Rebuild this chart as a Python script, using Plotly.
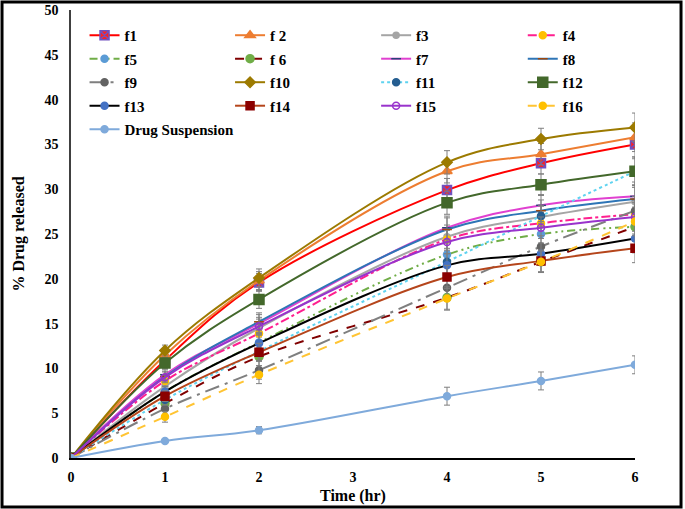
import plotly.graph_objects as go

# time points (hr)
time_hr = [0, 1, 2, 4, 5, 6]

# % drug released per formulation
f1 = [0, 10.9, 19.6, 29.9, 32.9, 35.0]
f2 = [0, 11.5, 19.8, 32.0, 33.9, 35.8]
f3 = [0, 8.0, 14.5, 24.7, 26.9, 28.6]
f4 = [0, 8.6, 13.9, 24.4, 26.2, 27.2]
f5 = [0, 7.4, 12.9, 22.7, 25.0, 25.8]
f6 = [0, 6.1, 11.3, 17.9, 21.9, 25.8]
f7 = [0, 9.3, 15.0, 25.7, 28.2, 29.2]
f8 = [0, 9.1, 15.2, 25.5, 27.6, 28.9]
f9 = [0, 5.5, 9.8, 19.0, 23.6, 27.6]
f10 = [0, 12.0, 20.1, 33.0, 35.6, 36.9]
f11 = [0, 6.5, 11.9, 21.9, 27.0, 32.0]
f12 = [0, 10.6, 17.7, 28.5, 30.5, 32.0]
f13 = [0, 7.4, 12.8, 21.5, 22.8, 24.5]
f14 = [0, 6.9, 11.8, 20.2, 22.0, 23.4]
f15 = [0, 9.0, 14.7, 24.1, 25.7, 26.9]
f16 = [0, 4.6, 9.3, 17.8, 21.9, 26.4]
drug_susp = [0, 1.9, 3.1, 6.9, 8.6, 10.4]

# error bars (sd)
err_f = [0, 0.6, 1.0, 1.3, 1.2, 1.6]
err_drug = [0, 0, 0.4, 1.0, 1.0, 1.0]

series = [
    ("f1", f1, "#FF0000", "solid", "square-x", "#FF2020", "#7050C0", 9, err_f),
    ("f 2", f2, "#ED7D31", "solid", "triangle-up", "#ED7D31", "#ED7D31", 9, err_f),
    ("f3", f3, "#A5A5A5", "solid", "circle", "#A5A5A5", "#A5A5A5", 6, err_f),
    ("f4", f4, "#FF1F8F", "dashdot", "circle", "#FFC000", "#FFC000", 7, err_f),
    ("f5", f5, "#70AD47", "8px,4px,2px,4px,2px,4px", "circle", "#5B9BD5", "#5B9BD5", 7, err_f),
    ("f 6", f6, "#800000", "dash", "circle", "#70AD47", "#70AD47", 8, err_f),
    ("f7", f7, "#E040D0", "solid", "line-ew", "#264478", "#264478", 7, err_f),
    ("f8", f8, "#2E75B6", "solid", "line-ew", "#9E480E", "#9E480E", 7, err_f),
    ("f9", f9, "#7F7F7F", "longdashdot", "circle", "#636363", "#636363", 7, err_f),
    ("f10", f10, "#9C7A00", "solid", "diamond", "#9C7A00", "#9C7A00", 8, err_f),
    ("f11", f11, "#5FD3F0", "dot", "circle", "#255E91", "#255E91", 7, err_f),
    ("f12", f12, "#43682B", "solid", "square", "#43682B", "#43682B", 10, err_f),
    ("f13", f13, "#000000", "solid", "circle", "#4472C4", "#4472C4", 7, err_f),
    ("f14", f14, "#B5451B", "solid", "square", "#8B0000", "#8B0000", 8, err_f),
    ("f15", f15, "#9933CC", "solid", "circle-open", "#9933CC", "#9933CC", 7, err_f),
    ("f16", f16, "#FFC433", "dash", "circle", "#FFC000", "#FFC000", 7, err_f),
    ("Drug Suspension", drug_susp, "#7FAADB", "solid", "circle", "#7FAADB", "#7FAADB", 7, err_drug),
]

# legend laid out as 4 columns (one vertical legend per column)
legend_ids = ["legend", "legend2", "legend3", "legend4"]
legend_x = [0.024, 0.282, 0.541, 0.801]

fig = go.Figure()
for i, (name, vals, lcol, dash, sym, mcol, mline, msize, err) in enumerate(series):
    fig.add_trace(go.Scatter(
        x=time_hr, y=vals, name=name, mode="lines+markers",
        legend=legend_ids[i % 4], legendgroup=name,
        line=dict(color=lcol, width=2, dash=dash, shape="spline", smoothing=1.0),
        marker=dict(symbol=sym, color=mcol, size=msize,
                    line=dict(color=mline, width=1.5)),
        error_y=dict(type="data", array=err, color="#7F7F7F", thickness=1, width=3),
    ))

leg_style = dict(
    orientation="v", y=0.98, xanchor="left", yanchor="top",
    font=dict(family="Liberation Serif", size=15, color="black", weight="bold"),
    bgcolor="rgba(0,0,0,0)", itemwidth=30, tracegroupgap=1,
)

fig.update_layout(
    width=685, height=509,
    margin=dict(l=71, r=50, t=10, b=51),
    paper_bgcolor="white", plot_bgcolor="white",
    font=dict(family="Liberation Serif", size=14, color="black"),
    showlegend=True,
    legend=dict(x=legend_x[0], **leg_style),
    legend2=dict(x=legend_x[1], **leg_style),
    legend3=dict(x=legend_x[2], **leg_style),
    legend4=dict(x=legend_x[3], **leg_style),
    xaxis=dict(
        range=[0, 6], dtick=1, showgrid=False, zeroline=False, automargin=False,
        showline=True, linecolor="black", linewidth=2,
        ticks="outside", ticklen=5, tickcolor="rgba(0,0,0,0)",
        tickfont=dict(family="Liberation Serif", size=14, weight="bold"),
        title=dict(text="<b>Time (hr)</b>", font=dict(family="Liberation Serif", size=16),
                   standoff=6),
    ),
    yaxis=dict(
        range=[0, 50], dtick=5, showgrid=False, zeroline=False, automargin=False,
        showline=True, linecolor="#404040", linewidth=1.5,
        ticks="outside", ticklen=8, tickcolor="rgba(0,0,0,0)",
        tickfont=dict(family="Liberation Serif", size=14, weight="bold"),
        title=dict(text="<b>% Drug released</b>", font=dict(family="Liberation Serif", size=16),
                   standoff=16),
    ),
    shapes=[dict(
        type="rect", xref="paper", yref="paper",
        x0=-0.1223, x1=1.0816, y0=-0.1094, y1=1.0179,
        line=dict(color="black", width=3), fillcolor="rgba(0,0,0,0)", layer="below",
    )],
)

# drop the default 8px page margin so the figure sits at the window corner
fig.write_html("out.html", config={"displayModeBar": False},
               post_script="document.body.style.margin='0';")
